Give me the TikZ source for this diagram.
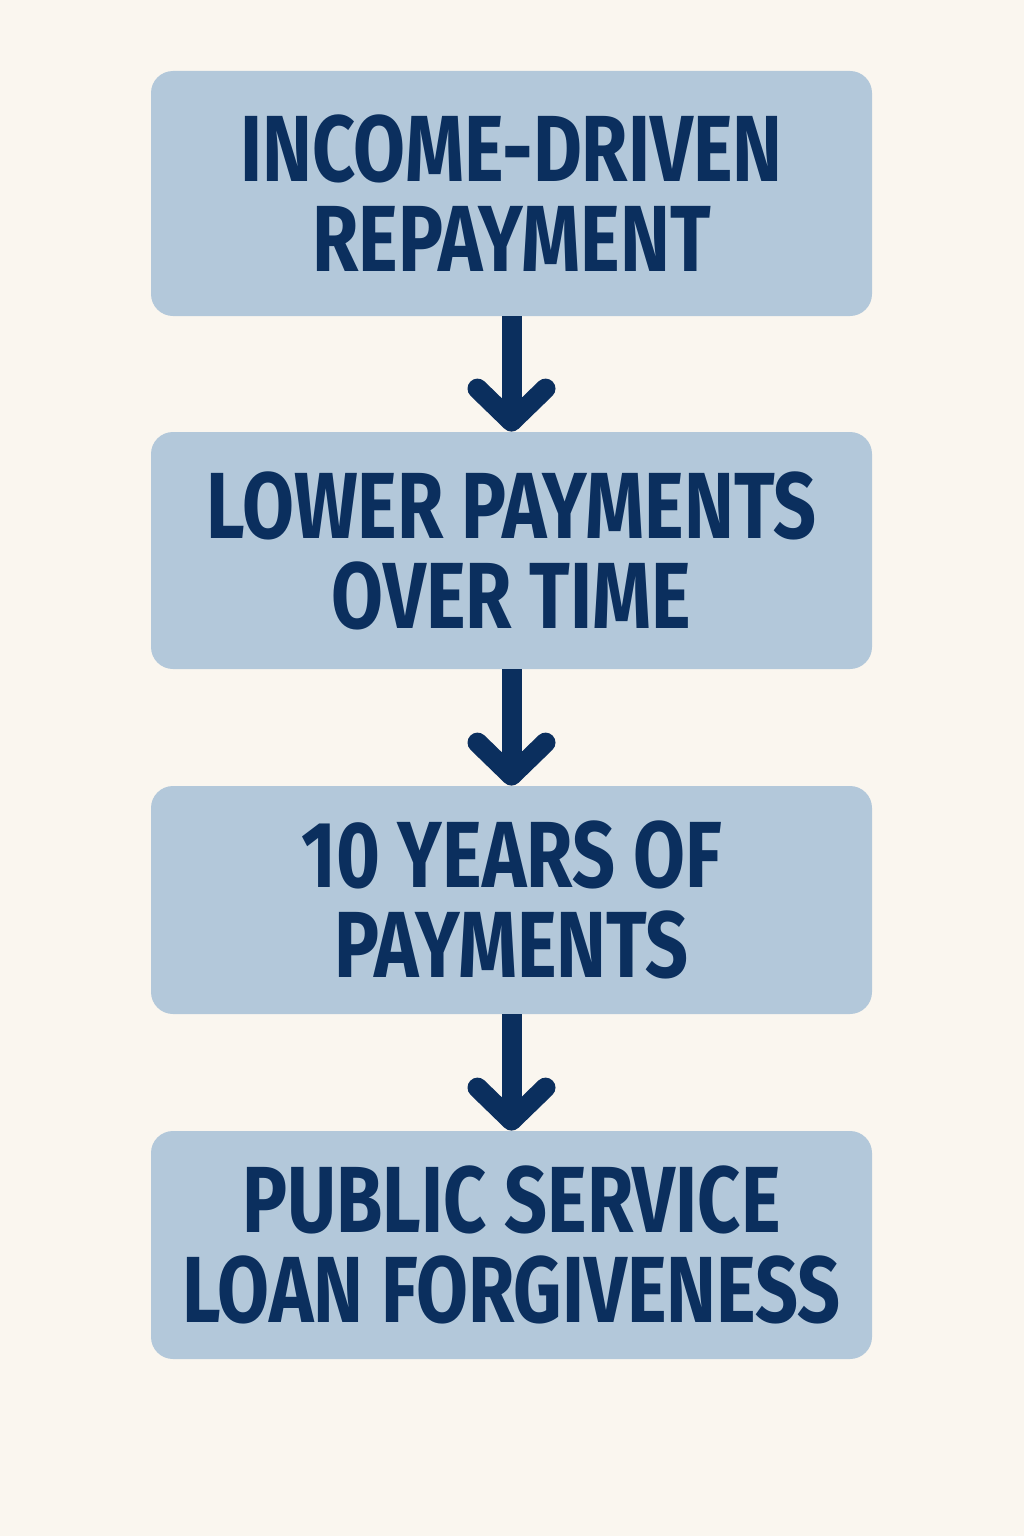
\documentclass[tikz,border=0pt]{standalone}
\usepackage{fontspec}
\usetikzlibrary{calc}
\newfontfamily\lblfont{Fira Sans}[FakeStretch=0.8]
\definecolor{bgc}{HTML}{FAF6EF}
\definecolor{boxc}{HTML}{B3C8DA}
\definecolor{navy}{HTML}{0B2F5E}
\tikzset{
  box/.style={fill=boxc, rounded corners=11pt, minimum width=360.5pt, inner sep=0pt,
    align=center, text=navy, font=\lblfont\bfseries\fontsize{47pt}{45pt}\selectfont},
  shaft/.style={draw=navy, line width=10pt, line cap=butt},
  chev/.style={draw=navy, line width=10pt, line cap=round, line join=round}
}
\begin{document}
\begin{tikzpicture}[x=0.5pt,y=-0.5pt]
\fill[bgc] (0,0) rectangle (1024,1536);
\node[box, minimum height=122.5pt] (b1) at (511.5,193.5) {INCOME-DRIVEN\\REPAYMENT};
\node[box, minimum height=118.5pt] (b2) at (511.5,550.5) {LOWER PAYMENTS\\OVER TIME};
\node[box, minimum height=114pt] (b3) at (511.5,900) {10 YEARS OF\\PAYMENTS};
\node[box, minimum height=114pt] (b4) at (511.5,1245) {PUBLIC SERVICE\\LOAN FORGIVENESS};
\foreach \a/\b in {b1/b2,b2/b3,b3/b4}{
  \draw[shaft] (\a.south) -- ($(\b.north)+(0,-12)$);
  \draw[chev] ($(\b.north)+(-34,-43)$) -- ($(\b.north)+(0,-10)$) -- ($(\b.north)+(34,-43)$);
}
\end{tikzpicture}
\end{document}
